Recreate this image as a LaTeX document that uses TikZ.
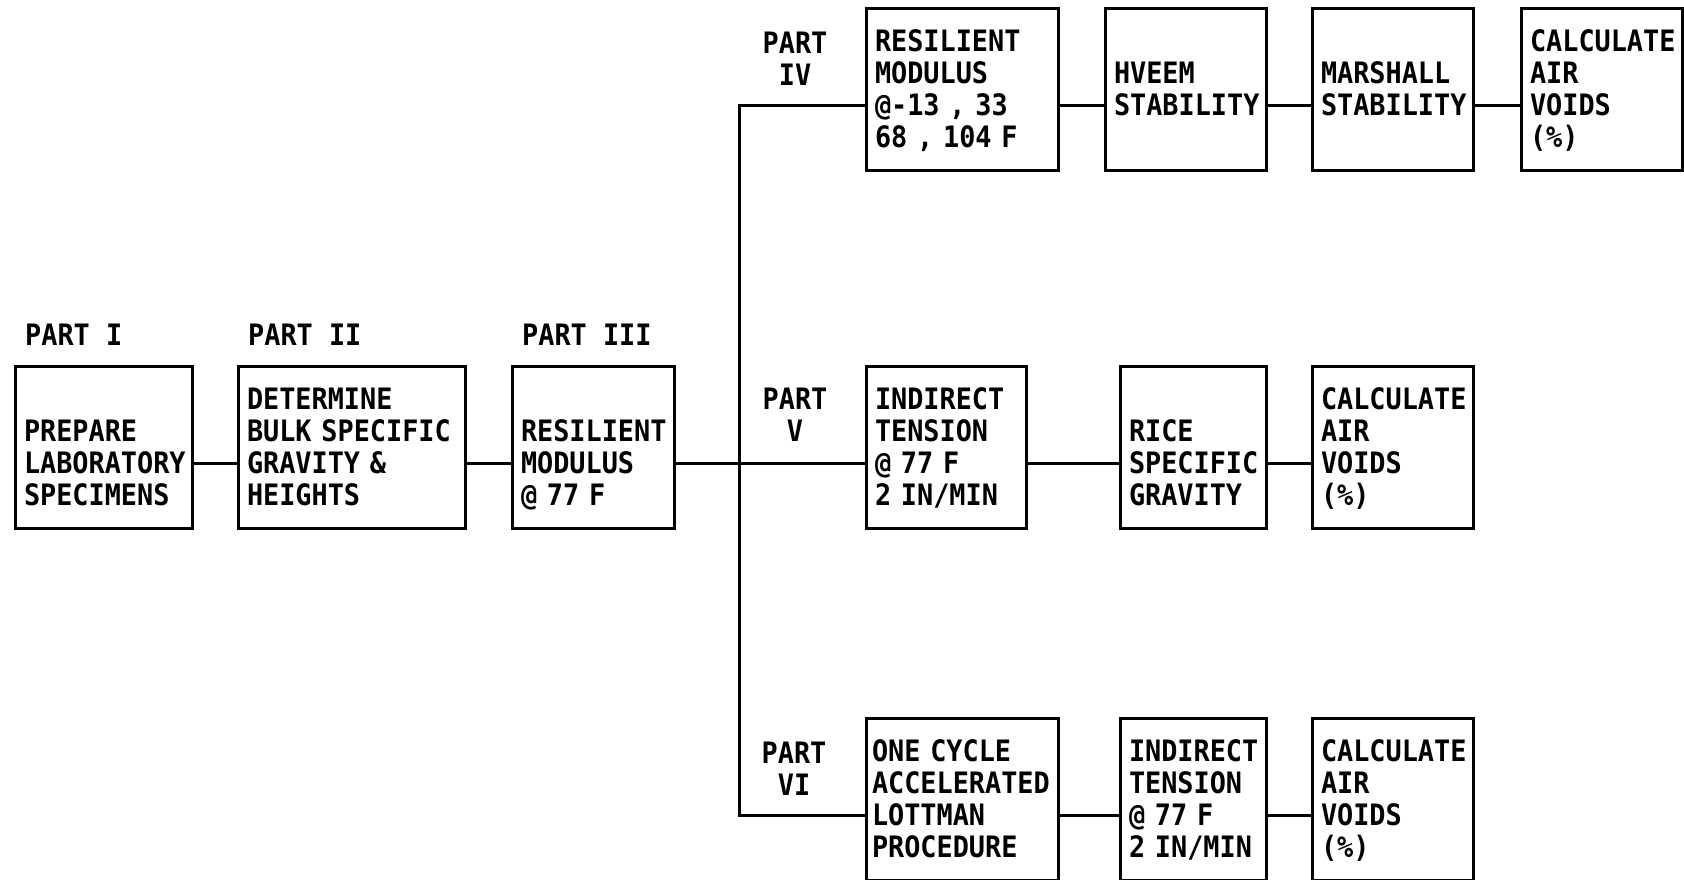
\documentclass[tikz,border=0pt]{standalone}
\usepackage{fontspec}
\setmainfont{DejaVu Sans Mono}[FakeStretch=0.91]
\usetikzlibrary{positioning}

\begin{document}
\begin{tikzpicture}[x=1pt, y=-1pt, font=\bfseries\fontsize{29.5}{32}\selectfont,
  stage/.style={draw, line width=3pt, outer sep=0pt, minimum height=162pt,
    inner xsep=9pt, inner ysep=0pt, align=left, anchor=north west,
    execute at begin node=\rule{0pt}{31pt}, execute at end node=\strut},
  link/.style={line width=3pt},
  part/.style={align=center, inner sep=0pt}]
  \useasboundingbox (0,0) rectangle (1684,879);

  % main line
  \node[stage, text width=159pt] (prep) at (15,366) {~\\PREPARE\\LABORATORY\\SPECIMENS};
  \node[stage, text width=209pt, right=46pt of prep] (bulk) {DETERMINE\\BULK SPECIFIC\\GRAVITY \&\\HEIGHTS};
  \node[stage, text width=144pt, right=47pt of bulk] (mr77) {~\\RESILIENT\\MODULUS\\@ 77 F};
  \node[part, anchor=west] (p1) at ([xshift=10pt, yshift=31pt]prep.north west) {PART I};
  \node[part, anchor=west] (p2) at ([xshift=10pt, yshift=31pt]bulk.north west) {PART II};
  \node[part, anchor=west] (p3) at ([xshift=10pt, yshift=31pt]mr77.north west) {PART III};

  % part IV
  \node[stage, text width=174pt] (mrtemp) at (866,8) {RESILIENT\\MODULUS\\@-13 , 33\\68 , 104 F};
  \node[stage, text width=143pt, right=47pt of mrtemp] (hveem) {~\\HVEEM\\STABILITY\\~};
  \node[stage, text width=143pt, right=46pt of hveem] (marshall) {~\\MARSHALL\\STABILITY\\~};
  \node[stage, text width=143pt, right=48pt of marshall] (voidsa) {CALCULATE\\AIR\\VOIDS\\(\%)};
  \node[part] (p4) at (795,59) {PART\\IV};

  % part V
  \node[stage, text width=142pt] (itv) at (866,366) {INDIRECT\\TENSION\\@ 77 F\\2 IN/MIN};
  \node[stage, text width=128pt, right=94pt of itv] (rice) {~\\RICE\\SPECIFIC\\GRAVITY};
  \node[stage, text width=143pt, right=46pt of rice] (voidsb) {CALCULATE\\AIR\\VOIDS\\(\%)};
  \node[part] (p5) at (795,415) {PART\\V};

  % part VI
  \node[stage, text width=180pt, inner xsep=6pt] (lottman) at (866,718) {ONE CYCLE\\ACCELERATED\\LOTTMAN\\PROCEDURE};
  \node[stage, text width=128pt, right=62pt of lottman] (itvi) {INDIRECT\\TENSION\\@ 77 F\\2 IN/MIN};
  \node[stage, text width=143pt, right=46pt of itvi] (voidsc) {CALCULATE\\AIR\\VOIDS\\(\%)};
  \node[part] (p6) at (794,769) {PART\\VI};

  \coordinate (split) at (739,463);
  \draw[link] ([yshift=-16pt]prep.east) -- ([yshift=-16pt]bulk.west);
  \draw[link] ([yshift=-16pt]bulk.east) -- ([yshift=-16pt]mr77.west);
  \draw[link] ([yshift=-16pt]mr77.east) -- ([yshift=-16pt]itv.west);
  \draw[link] ([yshift=-16pt]mrtemp.west) -| (split) |- ([yshift=-16pt]lottman.west);
  \draw[link] ([yshift=-16pt]mrtemp.east) -- ([yshift=-16pt]hveem.west);
  \draw[link] ([yshift=-16pt]hveem.east) -- ([yshift=-16pt]marshall.west);
  \draw[link] ([yshift=-16pt]marshall.east) -- ([yshift=-16pt]voidsa.west);
  \draw[link] ([yshift=-16pt]itv.east) -- ([yshift=-16pt]rice.west);
  \draw[link] ([yshift=-16pt]rice.east) -- ([yshift=-16pt]voidsb.west);
  \draw[link] ([yshift=-16pt]lottman.east) -- ([yshift=-16pt]itvi.west);
  \draw[link] ([yshift=-16pt]itvi.east) -- ([yshift=-16pt]voidsc.west);
\end{tikzpicture}
\end{document}
